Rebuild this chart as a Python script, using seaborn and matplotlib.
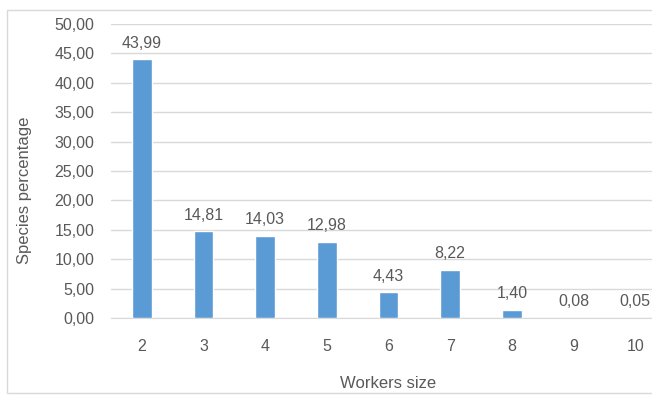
import numpy as np
import pandas as pd
import matplotlib
matplotlib.use("Agg")
import matplotlib.pyplot as plt
import seaborn as sns
from matplotlib.patches import Rectangle
from matplotlib.ticker import FuncFormatter

# data
workers_size = ["2", "3", "4", "5", "6", "7", "8", "9", "10"]
species_pct = [43.99, 14.81, 14.03, 12.98, 4.43, 8.22, 1.40, 0.08, 0.05]

df = pd.DataFrame({"size": workers_size, "pct": species_pct})

sns.set_style("white")
plt.rcParams['font.family'] = ['Liberation Sans', 'DejaVu Sans']
txt = "#595959"

fig = plt.figure(figsize=(6.52, 4.01), dpi=100)
fig.patches.append(Rectangle((7 / 652, 8 / 401), 1.2, 383 / 401, transform=fig.transFigure,
                             fill=False, edgecolor="#D9D9D9", lw=1))
ax = fig.add_axes([111 / 652, 1 - 318 / 401, 555 / 652, 294 / 401])

sns.barplot(data=df, x="size", y="pct", color="#5B9BD5", width=0.32,
            saturation=1, ax=ax, zorder=3)

ax.set_ylim(0, 50)
ax.set_yticks(np.arange(0, 51, 5))
ax.yaxis.set_major_formatter(FuncFormatter(lambda v, p: f"{v:.2f}".replace(".", ",")))
ax.grid(axis="y", color="#D9D9D9", lw=1, zorder=0)
for s in ["top", "right", "left"]:
    ax.spines[s].set_visible(False)
ax.spines["bottom"].set_color("#D9D9D9")
ax.tick_params(axis="both", length=0, labelsize=11.5, colors=txt)
ax.tick_params(axis="x", pad=15)
ax.tick_params(axis="y", pad=12)

for i, v in enumerate(species_pct):
    ax.annotate(f"{v:.2f}".replace(".", ","), (i, v), xytext=(0, 6),
                textcoords="offset points", ha="center", va="bottom",
                fontsize=11.5, color=txt)

ax.set_xlabel("")
ax.set_ylabel("")
fig.text(388 / 652, 1 - 383 / 401, "Workers size", ha="center", va="center",
         fontsize=12, color=txt)
fig.text(25 / 652, 1 - 190 / 401, "Species percentage", ha="center", va="center",
         rotation=90, fontsize=12, color=txt)

fig.savefig("out.png", dpi=100)
